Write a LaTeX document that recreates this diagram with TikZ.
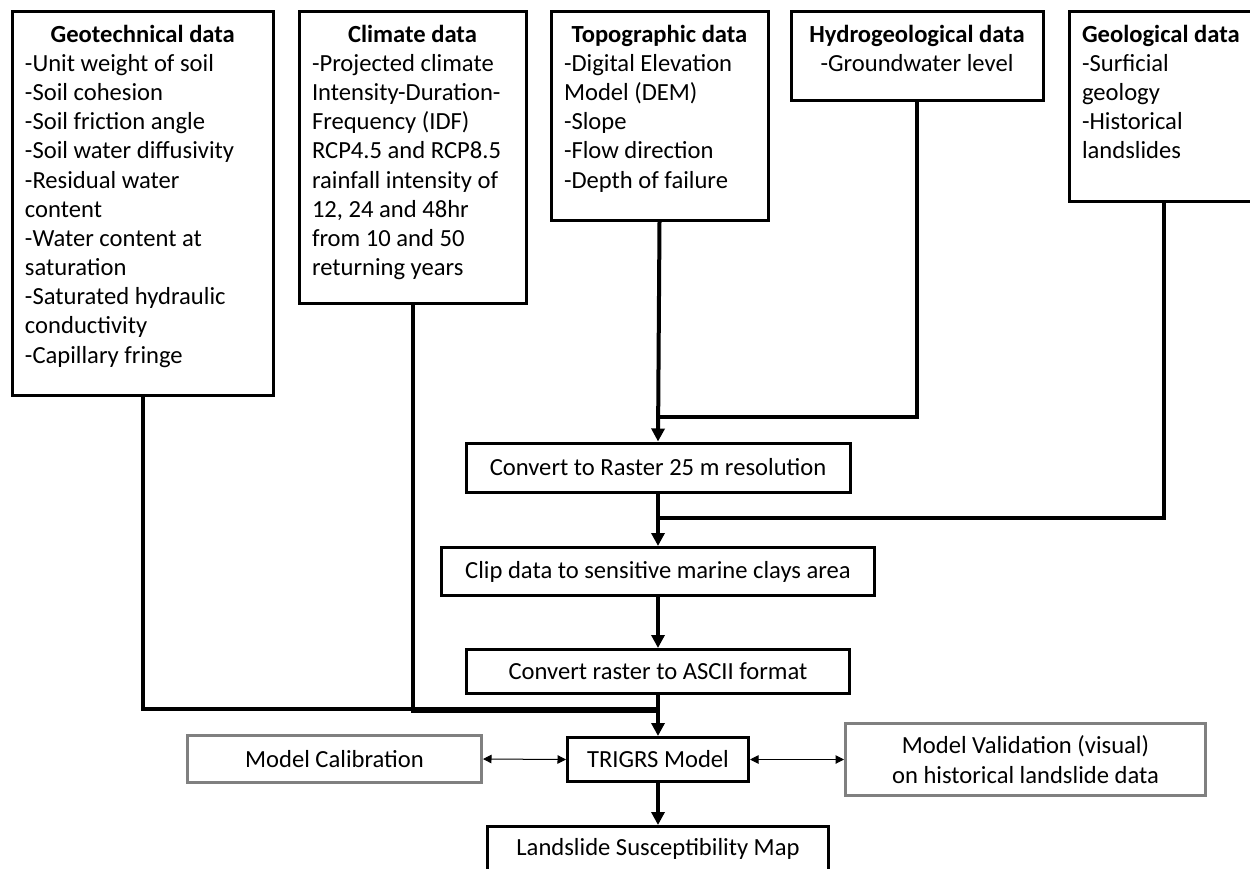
\documentclass[tikz,border=0pt]{standalone}
\usepackage{fontspec}
\setmainfont{Carlito}
\usetikzlibrary{arrows.meta}

\tikzset{
  databox/.style={draw, line width=0.06cm, anchor=north west, inner sep=0.26cm},
  procbox/.style={draw, line width=0.06cm, align=center, inner sep=0pt},
  sidebox/.style={procbox, draw=gray},
  link/.style={line width=0.08cm},
  flow/.style={link, -{Triangle[length=0.26cm,width=0.26cm]}},
  twoway/.style={line width=0.02cm, {Triangle[length=0.17cm,width=0.17cm]}-{Triangle[length=0.17cm,width=0.17cm]}},
}

\begin{document}
\begin{tikzpicture}[font=\fontsize{14}{16.6}\selectfont]
    \useasboundingbox (0,0) rectangle (25,-17.38);

    % input data
    \node[databox] (geotech) at (0.21,-0.21) {\begin{minipage}[t][7.14cm][t]{4.71cm}
        \centering\textbf{Geotechnical data}\par
        \raggedright
        -Unit weight of soil\\
        -Soil cohesion\\
        -Soil friction angle\\
        -Soil water diffusivity\\
        -Residual water\\
        content\\
        -Water content at\\
        saturation\\
        -Saturated hydraulic\\
        conductivity\\
        -Capillary fringe
    \end{minipage}};
    \node[databox] (climate) at (5.95,-0.21) {\begin{minipage}[t][5.30cm][t]{4.02cm}
        \centering\textbf{Climate data}\par
        \raggedright
        -Projected climate\\
        Intensity-Duration-\\
        Frequency (IDF)\\
        RCP4.5 and RCP8.5\\
        rainfall intensity of\\
        12, 24 and 48hr\\
        from 10 and 50\\
        returning years
    \end{minipage}};
    \node[databox] (topo) at (10.99,-0.21) {\begin{minipage}[t][3.64cm][t]{3.82cm}
        \centering\textbf{Topographic data}\par
        \raggedright
        -Digital Elevation\\
        Model (DEM)\\
        -Slope\\
        -Flow direction\\
        -Depth of failure
    \end{minipage}};
    \node[databox] (hydro) at (15.79,-0.21) {\begin{minipage}[t][1.26cm][t]{4.52cm}
        \centering\textbf{Hydrogeological data}\\
        -Groundwater level
    \end{minipage}};
    \node[databox] (geo) at (21.35,-0.21) {\begin{minipage}[t][3.26cm][t]{3.28cm}
        \raggedright
        \textbf{Geological data}\\
        -Surficial\\
        geology\\
        -Historical\\
        landslides
    \end{minipage}};

    % processing chain
    \node[procbox, minimum width=7.68cm, minimum height=0.98cm] (raster) at (13.16,-9.35) {Convert to Raster 25 m resolution};
    \node[procbox, minimum width=8.66cm, minimum height=0.96cm] (clip) at (13.16,-11.43) {Clip data to sensitive marine clays area};
    \node[procbox, minimum width=7.66cm, minimum height=0.88cm] (ascii) at (13.16,-13.43) {Convert raster to ASCII format};
    \node[procbox, minimum width=3.62cm, minimum height=0.88cm] (trigrs) at (13.16,-15.19) {TRIGRS Model};
    \node[procbox, minimum width=6.82cm, minimum height=0.88cm] (map) at (13.16,-16.97) {Landslide Susceptibility Map};
    \node[sidebox, minimum width=5.88cm, minimum height=0.94cm] (calib) at (6.69,-15.18) {Model Calibration};
    \node[sidebox, minimum width=7.2cm, minimum height=1.44cm] (valid) at (20.51,-15.19) {Model Validation (visual)\\on historical landslide data};

    % where the inputs meet
    \coordinate (topjoin) at (13.16,-8.34);
    \coordinate (geojoin) at (13.16,-10.36);
    \coordinate (injoin) at (13.16,-14.18);

    \draw[flow] (topo.south) -- (raster.north);
    \draw[link] (hydro.south) |- (topjoin);
    \draw[flow] (raster.south) -- (clip.north);
    \draw[link] (geo.south) |- (geojoin);
    \draw[flow] (clip.south) -- (ascii.north);
    \draw[flow] (ascii.south) -- (trigrs.north);
    \draw[link] (geotech.south) |- (injoin);
    \draw[link] (climate.south) |- ([yshift=-0.04cm]injoin);
    \draw[flow] (trigrs.south) -- (map.north);
    \draw[twoway] (calib.east) -- (trigrs.west);
    \draw[twoway] (trigrs.east) -- (valid.west);
\end{tikzpicture}
\end{document}
